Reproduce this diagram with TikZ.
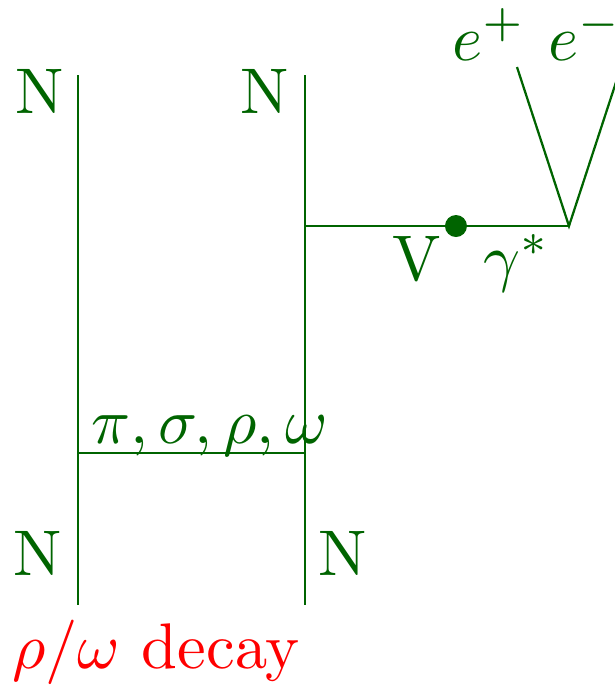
\documentclass[tikz,border=0pt]{standalone}
\usepackage{amsmath,amssymb}
\usetikzlibrary{positioning,calc}
\definecolor{lgreen}{RGB}{0,100,0}

\begin{document}
\begin{tikzpicture}[
  x=0.155pt, y=-0.155pt,
  prop/.style  = {draw=lgreen, line width=0.35pt},
  lab/.style   = {text=lgreen, inner sep=0pt, anchor=base},
  note/.style  = {text=red, inner sep=0pt, anchor=base},
  blob/.style  = {fill=lgreen, draw=none}]

\useasboundingbox (0,0) rectangle (615,687);

% nucleon lines
\coordinate (n1top) at (78,75);
\coordinate (n1bot) at (78,605);
\coordinate (n2top) at (305,75);
\coordinate (n2bot) at (305,605);
\draw[prop] (n1top) -- (n1bot);
\draw[prop] (n2top) -- (n2bot);

\node[lab] (N1) at (40,113)  {N};
\node[lab] (N2) at (265,113) {N};
\node[lab] (N3) at (38,575)  {N};
\node[lab] (N4) at (343,575) {N};

% meson exchange
\coordinate (x1) at (n1bot |- 0,453);
\coordinate (x2) at (n2bot |- 0,453);
\draw[prop] (x1) -- (x2);
\node[lab, anchor=base west] (mes) at (90,443) {$\pi,\sigma,\rho,\omega$};

% vector meson -> virtual photon -> lepton pair
\coordinate (v0) at (n2top |- 0,226);
\coordinate (vtx) at (569,226);
\coordinate (ep) at (517,67);
\coordinate (em) at (621,67);
\draw[prop] (v0) -- (vtx);
\draw[prop] (ep) -- (vtx) -- (em);
\fill[blob] (456,226) circle[radius=11];

\node[lab] (V)  at (417,280) {V};
\node[lab] (gm) at (517,279) {$\gamma^*$};
\node[lab] (lp) at (489,60)  {$e^+$};
\node[lab] (lm) at (585,60)  {$e^-$};

\node[note] (dec) at (156,668) {$\rho/\omega$ decay};

\end{tikzpicture}
\end{document}
